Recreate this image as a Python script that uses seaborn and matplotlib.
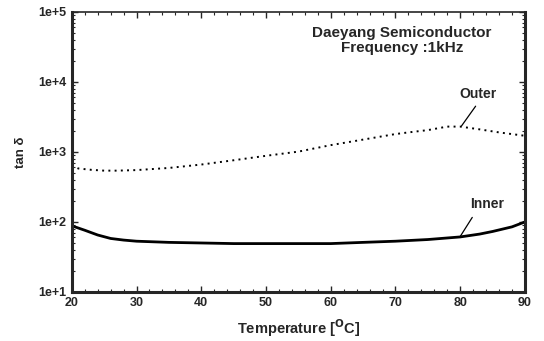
import pandas as pd
import matplotlib.pyplot as plt
import seaborn as sns
import numpy as np
from matplotlib.ticker import LogLocator, FixedLocator

temp_inner = [20, 22, 24, 26, 28, 30, 35, 40, 45, 50, 55, 60, 65, 70, 75, 80, 83, 85, 88, 90]
tan_inner = [88, 76, 65, 58, 55, 53, 51, 50, 49, 49, 49, 49, 51, 53, 56, 61, 67, 73, 85, 100]

temp_outer = [20, 21, 23, 25, 27, 30, 35, 40, 45, 50, 55, 60, 65, 70, 72, 75, 78, 80, 83, 86, 90]
tan_outer = [640, 580, 555, 540, 540, 550, 590, 660, 760, 880, 1010, 1250, 1500, 1800, 1900, 2050, 2300, 2300, 2100, 1900, 1700]

xticks = [20, 30, 40, 50, 60, 70, 80, 90]
yticks = [1e1, 1e2, 1e3, 1e4, 1e5]
ytick_labels = ['1e+1', '1e+2', '1e+3', '1e+4', '1e+5']

df_inner = pd.DataFrame({'temp': temp_inner, 'tan': tan_inner})
df_outer = pd.DataFrame({'temp': temp_outer, 'tan': tan_outer})

sns.set_style('ticks')
plt.rcParams['font.family'] = ['Liberation Sans', 'DejaVu Sans']
plt.rcParams['font.weight'] = 'bold'

fig = plt.figure(figsize=(5.44, 3.41), dpi=100)
ax = fig.add_axes([0.132, 0.144, 0.833, 0.821])

sns.lineplot(x='temp', y='tan', data=df_outer, ax=ax, color='black', linewidth=1.4,
             linestyle=(0, (1, 2.2)))
sns.lineplot(x='temp', y='tan', data=df_inner, ax=ax, color='black', linewidth=2.0)

ax.set_yscale('log')
ax.set_xlim(20, 90)
ax.set_ylim(1e1, 1e5)
ax.xaxis.set_major_locator(FixedLocator(xticks))
ax.set_yticks(yticks)
ax.set_yticklabels(ytick_labels)
ax.yaxis.set_minor_locator(LogLocator(base=10, subs=np.arange(2, 10)))
ax.yaxis.set_minor_formatter(plt.NullFormatter())
ax.xaxis.set_minor_locator(FixedLocator(np.arange(22, 90, 2)))

ax.tick_params(which='both', direction='in', top=True, right=True, labelsize=9)
ax.tick_params(which='major', length=4, width=1, pad=4)
ax.tick_params(which='minor', length=2, width=0.8)
for lab in ax.get_xticklabels() + ax.get_yticklabels():
    lab.set_fontweight('bold')
for s in ax.spines.values():
    s.set_linewidth(2.2)
ax.spines['top'].set_linewidth(1.2)

ax.set_xlabel('Temperature [$^\\mathbf{O}$C]', fontsize=10.5, fontweight='bold', labelpad=6)
ax.set_ylabel('tan δ', fontsize=9.5, fontweight='bold', labelpad=8)

ax.text(0.728, 0.948, 'Daeyang Semiconductor\nFrequency :1kHz', transform=ax.transAxes,
        ha='center', va='top', fontsize=11, fontweight='bold', linespacing=1.05)

ax.annotate('Outer', xy=(80.2, 2350), xytext=(82.7, 5400), fontsize=10, fontweight='bold',
            ha='center', va='bottom',
            arrowprops=dict(arrowstyle='-', color='black', lw=0.9, shrinkA=2, shrinkB=0,
                            relpos=(0.55, 0)))
ax.annotate('Inner', xy=(80.0, 62), xytext=(84.1, 145), fontsize=10, fontweight='bold',
            ha='center', va='bottom',
            arrowprops=dict(arrowstyle='-', color='black', lw=0.9, shrinkA=3, shrinkB=0,
                            relpos=(0.2, 0)))

fig.savefig('out.png', dpi=100)
